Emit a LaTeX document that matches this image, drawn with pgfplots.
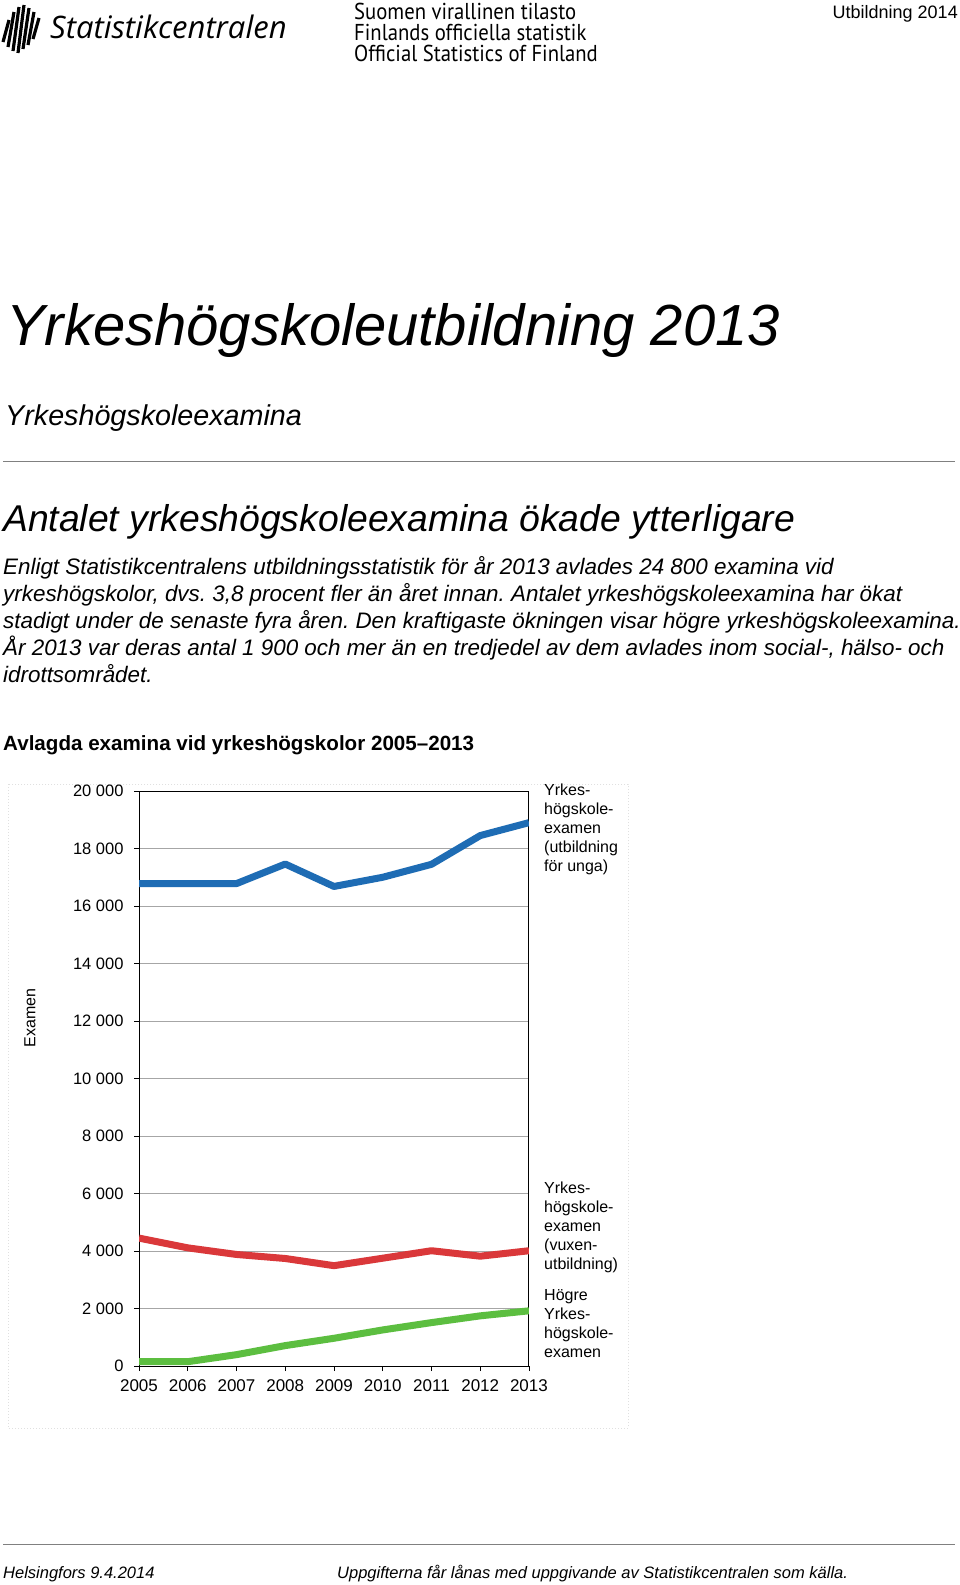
\documentclass[border=0pt]{standalone}
\usepackage{pgfplots}
\pgfplotsset{compat=1.18}
\usepackage{fontspec}
\setmainfont{Liberation Sans}
\newfontfamily\logofont{Open Sans}
\newfontfamily\osfont{PT Sans}[FakeStretch=0.9]
\definecolor{blueL}{RGB}{30,108,180}
\definecolor{redL}{RGB}{218,56,58}
\definecolor{greenL}{RGB}{92,190,64}
\newcommand\fs[1]{\fontsize{#1}{#1}\selectfont}
\frenchspacing

\begin{document}
\begin{tikzpicture}[x=1pt,y=-1pt]
\path[use as bounding box, fill=white] (0,0) rectangle (960,1585);

% header
\foreach \x/\a/\b in {6/20/42, 11/12/47, 16/7/51, 21/5/53, 26/8/49, 31/12/45, 36/18/39}
  \draw[line width=3.2pt] (\x+3,\a) -- (\x-3,\b);
\node[anchor=base west, inner sep=0] at (50,38) {\logofont\itshape\fs{31}Statistikcentralen};
\node[anchor=base west, inner sep=0] at (354,19) {\osfont\fs{23}Suomen virallinen tilasto};
\node[anchor=base west, inner sep=0] at (354,40) {\osfont\fs{23}Finlands officiella statistik};
\node[anchor=base west, inner sep=0] at (354,61) {\osfont\fs{23}Official Statistics of Finland};
\node[anchor=base east, inner sep=0] at (958,18) {\fs{18}Utbildning 2014};

% titles
\node[anchor=base west, inner sep=0] at (6,345) {\fs{58}\itshape Yrkeshögskoleutbildning 2013};
\node[anchor=base west, inner sep=0] at (5,425) {\fs{28.7}\itshape Yrkeshögskoleexamina};
\draw[gray, line width=1pt] (3,461) -- (955,461);
\node[anchor=base west, inner sep=0] at (3,531) {\fs{37.3}\itshape Antalet yrkeshögskoleexamina ökade ytterligare};
\begin{scope}[every node/.style={anchor=base west, inner sep=0, font=\fs{22.4}\itshape}]
\node at (3,574) {Enligt Statistikcentralens utbildningsstatistik för år 2013 avlades 24 800 examina vid};
\node at (3,601) {yrkeshögskolor, dvs. 3,8 procent fler än året innan. Antalet yrkeshögskoleexamina har ökat};
\node at (3,628) {stadigt under de senaste fyra åren. Den kraftigaste ökningen visar högre yrkeshögskoleexamina.};
\node at (3,655) {År 2013 var deras antal 1 900 och mer än en tredjedel av dem avlades inom social-, hälso- och};
\node at (3,682) {idrottsområdet.};
\end{scope}
\node[anchor=base west, inner sep=0] at (3,750) {\fs{20.6}\bfseries Avlagda examina vid yrkeshögskolor 2005–2013};

% chart frame
\draw[black!12, dotted, line width=1pt] (8,784) rectangle (628,1428);

\begin{axis}[
  at={(139pt,-1366pt)}, anchor=south west,
  scale only axis, width=390pt, height=575pt,
  xmin=2005, xmax=2013, ymin=0, ymax=20000,
  scaled y ticks=false,
  xtick={2005,...,2013},
  xticklabels={2005,2006,2007,2008,2009,2010,2011,2012,2013},
  ytick={0,2000,...,20000},
  yticklabels={0,2\ 000,4\ 000,6\ 000,8\ 000,10\ 000,12\ 000,14\ 000,16\ 000,18\ 000,20\ 000},
  xtick pos=bottom, ytick pos=left, tick align=outside,
  major tick length=5pt, tick style={black, line width=0.8pt},
  ymajorgrids, grid style={gray!70, line width=0.8pt},
  axis line style={black, line width=1pt},
  yticklabel style={font=\fs{16.5}, xshift=-7pt},
  xticklabel style={font=\fs{17}, yshift=-5pt},
  every axis plot/.append style={line width=7pt, line join=round},
]
\addplot[blueL] coordinates {(2005,16780) (2006,16780) (2007,16780) (2008,17460) (2009,16680) (2010,17000) (2011,17450) (2012,18450) (2013,18900)};
\addplot[redL] coordinates {(2005,4450) (2006,4110) (2007,3880) (2008,3740) (2009,3490) (2010,3750) (2011,4010) (2012,3820) (2013,4010)};
\addplot[greenL] coordinates {(2005,150) (2006,150) (2007,395) (2008,710) (2009,965) (2010,1255) (2011,1510) (2012,1745) (2013,1920)};
\end{axis}

\node[rotate=90, inner sep=0] at (30,1018) {\fs{16}Examen};
\begin{scope}[every node/.style={anchor=base west, inner sep=0, font=\fs{16}}]
\foreach \t [count=\i from 0] in {{Yrkes-},{högskole-},{examen},{(utbildning},{för unga)}}
  \node at (544,795+19*\i) {\t};
\foreach \t [count=\i from 0] in {{Yrkes-},{högskole-},{examen},{(vuxen-},{utbildning)}}
  \node at (544,1193+19*\i) {\t};
\foreach \t [count=\i from 0] in {{Högre},{Yrkes-},{högskole-},{examen}}
  \node at (544,1300+19*\i) {\t};
\end{scope}

% footer
\draw[gray, line width=1pt] (3,1544) -- (955,1544);
\node[anchor=base west, inner sep=0] at (3,1578) {\fs{16.5}\itshape Helsingfors 9.4.2014};
\node[anchor=base west, inner sep=0] at (337,1578) {\fs{16.5}\itshape Uppgifterna får lånas med uppgivande av Statistikcentralen som källa.};
\end{tikzpicture}
\end{document}
